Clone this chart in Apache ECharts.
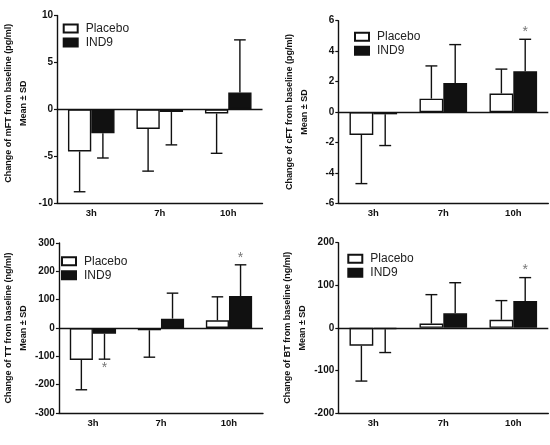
<!DOCTYPE html>
<html>
<head>
<meta charset="utf-8">
<script src="https://cdn.jsdelivr.net/npm/echarts@6/dist/echarts.min.js"></script>
<style>
html, body { margin: 0; padding: 0; background: #fff; }
#chart { width: 550px; height: 445px; }
</style>
</head>
<body>
<div id="chart"></div>
<script>
// categories and groups
const categories = ['3h', '7h', '10h'];
const groupNames = ['Placebo', 'IND9'];

// mFT (pg/ml): mean change and SD
const mftPlacebo = [-4.5, -2.1, -0.45];
const mftPlaceboSd = [4.3, 4.5, 4.25];
const mftInd9 = [-2.55, -0.3, 1.8];
const mftInd9Sd = [2.65, 3.5, 5.6];
const mftStars = [0, 0, 0];

// cFT (pg/ml)
const cftPlacebo = [-1.5, 0.88, 1.22];
const cftPlaceboSd = [3.2, 2.15, 1.6];
const cftInd9 = [-0.15, 1.9, 2.68];
const cftInd9Sd = [2.05, 2.53, 2.1];
const cftStars = [0, 0, 1];

// TT (ng/ml)
const ttPlacebo = [-113, -8, 27];
const ttPlaceboSd = [105, 95, 83];
const ttInd9 = [-20, 33, 113];
const ttInd9Sd = [90, 90, 110];
const ttStars = [1, 0, 1];

// BT (ng/ml)
const btPlacebo = [-42, 10, 19];
const btPlaceboSd = [83, 68, 45];
const btInd9 = [-3, 34, 63];
const btInd9Sd = [55, 72, 55];
const btStars = [0, 0, 1];

// y axis ticks: min, max, step
const mftTicks = [-10, 10, 5];
const cftTicks = [-6, 6, 2];
const ttTicks = [-300, 300, 100];
const btTicks = [-200, 200, 100];

const panels = [
  { title: 'Change of mFT from baseline (pg/ml)', ticks: mftTicks,
    placebo: mftPlacebo, placeboSd: mftPlaceboSd, ind9: mftInd9, ind9Sd: mftInd9Sd, stars: mftStars,
    grid: { left: 49.5, top: 15.5, width: 213, height: 187.5 }, legend: { left: 62.7, top: 22.5 }, nameShift: 12 },
  { title: 'Change of cFT from baseline (pg/ml)', ticks: cftTicks,
    placebo: cftPlacebo, placeboSd: cftPlaceboSd, ind9: cftInd9, ind9Sd: cftInd9Sd, stars: cftStars,
    grid: { left: 338.3, top: 20.7, width: 210, height: 182.7 }, legend: { left: 354, top: 30.7 }, nameShift: 0 },
  { title: 'Change of TT from baseline (ng/ml)', ticks: ttTicks,
    placebo: ttPlacebo, placeboSd: ttPlaceboSd, ind9: ttInd9, ind9Sd: ttInd9Sd, stars: ttStars,
    grid: { left: 49, top: 243, width: 214, height: 170 }, legend: { left: 61, top: 255.3 }, nameShift: 0 },
  { title: 'Change of BT from baseline (ng/ml)', ticks: btTicks,
    placebo: btPlacebo, placeboSd: btPlaceboSd, ind9: btInd9, ind9Sd: btInd9Sd, stars: btStars,
    grid: { left: 338.3, top: 242.7, width: 210, height: 170.3 }, legend: { left: 347.3, top: 252.7 }, nameShift: 0 }
];

const BAR_RATIO = 0.34;
const INK = '#111';
const FONT = '"Liberation Sans", Arial, sans-serif';

// one-sided error bar (away from zero) with optional asterisk
function errorRenderer(side) {
  return function (params, api) {
    const cat = api.value(0);
    const mean = api.value(1);
    const sd = api.value(2);
    const star = api.value(3);
    const dir = mean < 0 ? -1 : 1;
    const p0 = api.coord([cat, mean]);
    const p1 = api.coord([cat, mean + dir * sd]);
    const bw = api.size([1, 0])[0] * BAR_RATIO;
    const x = p0[0] + side * bw / 2;
    const cap = bw * 0.25;
    const style = { stroke: INK, lineWidth: 1.4 };
    const children = [
      { type: 'line', shape: { x1: x, y1: p0[1], x2: x, y2: p1[1] }, style: style },
      { type: 'line', shape: { x1: x - cap, y1: p1[1], x2: x + cap, y2: p1[1] }, style: style }
    ];
    if (star) {
      children.push({
        type: 'text',
        style: {
          text: '*', x: x, y: dir > 0 ? p1[1] - 7 : p1[1] + 9,
          align: 'center', verticalAlign: 'middle',
          fill: '#777', font: '14px ' + FONT
        }
      });
    }
    return { type: 'group', children: children };
  };
}

const option = {
  animation: false,
  backgroundColor: '#fff',
  grid: [],
  xAxis: [],
  yAxis: [],
  legend: [],
  series: []
};

panels.forEach(function (p, i) {
  option.grid.push(Object.assign({ containLabel: false }, p.grid));
  option.xAxis.push({
    type: 'category',
    gridIndex: i,
    data: categories,
    axisLine: { onZero: false, lineStyle: { color: INK, width: 1.4 } },
    axisTick: { alignWithLabel: true, length: 3, lineStyle: { color: INK, width: 1.2 } },
    axisLabel: { color: INK, fontWeight: 'bold', fontSize: 9.5, margin: 5, fontFamily: FONT },
    splitLine: { show: false }
  });
  option.yAxis.push({
    type: 'value',
    gridIndex: i,
    min: p.ticks[0],
    max: p.ticks[1],
    interval: p.ticks[2],
    axisLine: { show: true, lineStyle: { color: INK, width: 1.4 } },
    axisTick: { show: true, length: 3, lineStyle: { color: INK, width: 1.2 } },
    axisLabel: { color: INK, fontWeight: 'bold', fontSize: 10, margin: 4, fontFamily: FONT },
    splitLine: { show: false },
    name: p.title + '\nMean \u00b1 SD',
    nameLocation: 'middle',
    nameRotate: 90,
    nameGap: 26,
    nameTextStyle: { color: INK, fontWeight: 'bold', fontSize: 9, lineHeight: 15,
      fontFamily: FONT, padding: [0, 0, 0, p.nameShift] }
  });
  option.legend.push({
    orient: 'vertical',
    left: p.legend.left,
    top: p.legend.top,
    padding: 0,
    itemGap: 2,
    itemWidth: 14,
    itemHeight: 8,
    icon: 'rect',
    data: groupNames,
    textStyle: { color: '#222', fontSize: 12, lineHeight: 12, padding: [0, 0, 0, 3], fontFamily: FONT }
  });
  option.series.push({
    name: groupNames[0],
    type: 'bar',
    xAxisIndex: i,
    yAxisIndex: i,
    barWidth: (BAR_RATIO * 100) + '%',
    barGap: '0%',
    data: p.placebo,
    itemStyle: { color: '#fff', borderColor: INK, borderWidth: 1.4 },
    markLine: {
      silent: true,
      symbol: ['none', 'none'],
      label: { show: false },
      lineStyle: { color: INK, width: 1.4, type: 'solid' },
      data: [{ yAxis: 0 }]
    }
  });
  option.series.push({
    name: groupNames[1],
    type: 'bar',
    xAxisIndex: i,
    yAxisIndex: i,
    barWidth: (BAR_RATIO * 100) + '%',
    barGap: '0%',
    data: p.ind9,
    itemStyle: { color: INK, borderColor: INK, borderWidth: 1.4 }
  });
  option.series.push({
    type: 'custom',
    xAxisIndex: i,
    yAxisIndex: i,
    renderItem: errorRenderer(-1),
    data: categories.map(function (c, k) { return [k, p.placebo[k], p.placeboSd[k], 0]; }),
    z: 3
  });
  option.series.push({
    type: 'custom',
    xAxisIndex: i,
    yAxisIndex: i,
    renderItem: errorRenderer(1),
    data: categories.map(function (c, k) { return [k, p.ind9[k], p.ind9Sd[k], p.stars[k]]; }),
    z: 3
  });
});

const chart = echarts.init(document.getElementById('chart'));
chart.setOption(option);
window.addEventListener('resize', function () { chart.resize(); });
</script>
</body>
</html>
